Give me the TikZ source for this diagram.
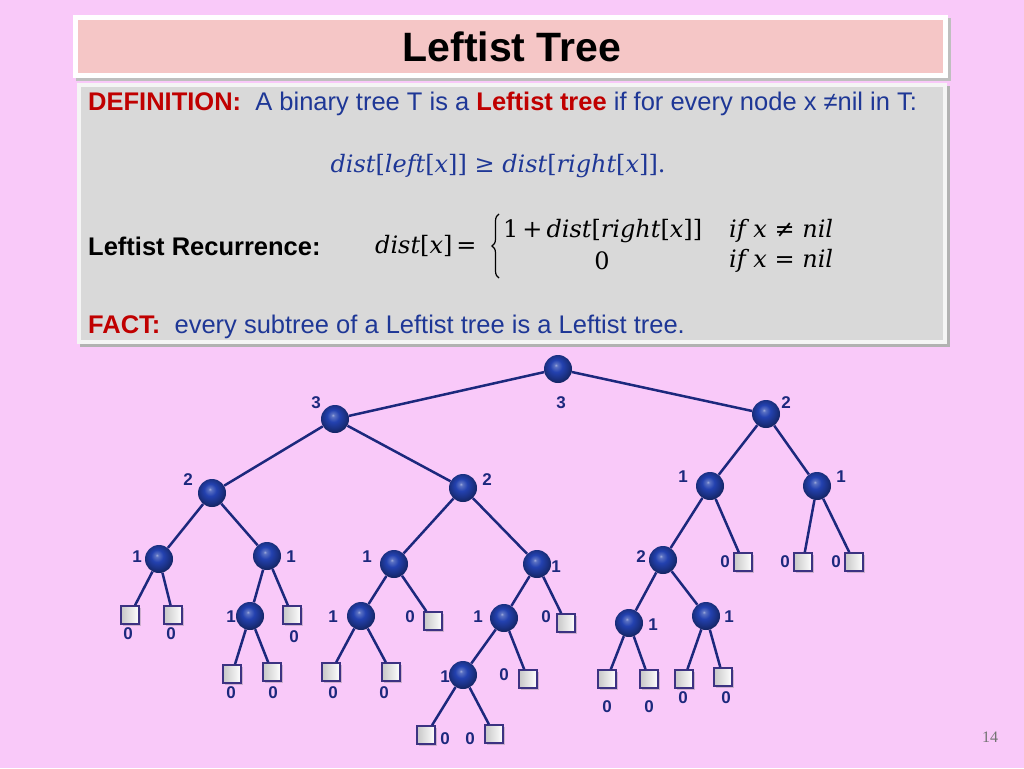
\documentclass[tikz,border=0pt]{standalone}
\usepackage{fontspec}
\setmainfont{Liberation Sans}
\newfontfamily\serf{Liberation Serif}
\newfontfamily\mathf{DejaVu Serif}
\usetikzlibrary{shadows,decorations.pathreplacing}
\definecolor{bgpink}{RGB}{249,201,249}
\definecolor{titlepink}{RGB}{245,198,198}
\definecolor{boxgray}{RGB}{217,217,217}
\definecolor{defred}{RGB}{192,0,0}
\definecolor{defblue}{RGB}{30,55,150}
\definecolor{navy}{RGB}{28,40,125}
\definecolor{ballblue}{RGB}{35,65,175}
\definecolor{sqedge}{RGB}{60,50,130}
\pgfdeclareradialshading{myball}{\pgfpoint{-4bp}{7bp}}{%
  color(0bp)=(ballblue!45!white); color(3bp)=(ballblue!75!white); color(11bp)=(ballblue);
  color(21bp)=(ballblue!75!black); color(28bp)=(ballblue!55!black); color(50bp)=(ballblue!55!black)}
\newcommand{\fm}[1]{{\mathf\itshape #1}}
\newcommand{\fu}[1]{{\mathf #1}}
\tikzset{
  ball/.style={circle, minimum size=28pt, inner sep=0pt, shading=myball},
  leaf/.style={rectangle, minimum size=18pt, inner sep=0pt, draw=sqedge, line width=1.6pt,
    left color=black!22, right color=white, drop shadow={shadow xshift=1.5pt, shadow yshift=-1.5pt, opacity=0.35}},
  lab/.style={font=\bfseries\fontsize{17}{17}\selectfont, text=navy, inner sep=0pt},
  edge/.style={draw=navy, line width=2.5pt},
  deftext/.style={font=\fontsize{25.5}{25.5}\selectfont, inner sep=0pt, anchor=west},
  frm/.style={font=\fontsize{24}{24}\selectfont, inner sep=0pt},
  bracepath/.style={decorate, decoration={brace, amplitude=7pt}, line width=1.2pt}
}
\begin{document}
\begin{tikzpicture}[x=1pt,y=-1pt]
\fill[bgpink] (0,0) rectangle (1024,768);
\useasboundingbox (0,0) rectangle (1024,768);
% title
\fill[black!25] (76,18) rectangle (951,81);
\fill[white] (73,15) rectangle (948,78);
\fill[titlepink] (78,20) rectangle (943,73);
\node[font=\bfseries\fontsize{41}{41}\selectfont, inner sep=0pt] (title) at (512,47) {Leftist Tree};
% definition box
\fill[black!30] (80,86) rectangle (950,347);
\fill[white!92!gray] (77,83) rectangle (947,344);
\fill[boxgray] (81,87) rectangle (943,340);
\node[deftext] (def) at (88,104) {\textcolor{defred}{\bfseries DEFINITION:}\ \ \textcolor{defblue}{A binary tree T is a} \textcolor{defred}{\bfseries Leftist tree} \textcolor{defblue}{if for every node x ≠nil in T:}};
\node[frm, text=defblue] (f1) at (498,166) {\fm{dist}\fu{[}\fm{left}\fu{[}\fm{x}\fu{]]\ ≥\ }\fm{dist}\fu{[}\fm{right}\fu{[}\fm{x}\fu{]].}};
\node[deftext] (rec) at (88,246) {\bfseries Leftist Recurrence:};
\node[frm, anchor=west] (dx) at (375,246) {\fm{dist}\fu{[}\fm{x}\fu{]\,=}};
\coordinate (bt) at (499,214);
\coordinate (bb) at (499,278);
\draw[bracepath] (bb) -- (bt);
\node[frm, anchor=west] (r1) at (503,231) {\fu{1\,+\,}\fm{dist}\fu{[}\fm{right}\fu{[}\fm{x}\fu{]]}};
\node[frm] (r2) at (602,261) {\fu{0}};
\node[frm, anchor=west] (c1) at (729,231) {\fm{if x}\fu{\ ≠\ }\fm{nil}};
\node[frm, anchor=west] (c2) at (729,261) {\fm{if x}\fu{\ =\ }\fm{nil}};
\node[deftext] (fact) at (88,327) {\textcolor{defred}{\bfseries FACT:}\ \ \textcolor{defblue}{every subtree of a Leftist tree is a Leftist tree.}};
% page number
\node[font=\serf\fontsize{16}{16}\selectfont, text=black!55] (pg) at (990,737) {14};
% tree nodes
\node[ball] (r) at (558,369) {};
\node[ball] (a) at (335,419) {};
\node[ball] (b) at (766,414) {};
\node[ball] (c) at (212,493) {};
\node[ball] (d) at (463,488) {};
\node[ball] (e) at (159,559) {};
\node[ball] (f) at (267,556) {};
\node[ball] (g) at (250,616) {};
\node[ball] (h) at (394,564) {};
\node[ball] (i) at (537,564) {};
\node[ball] (j) at (361,616) {};
\node[ball] (k) at (504,618) {};
\node[ball] (l) at (463,675) {};
\node[ball] (m) at (710,486) {};
\node[ball] (n) at (817,486) {};
\node[ball] (o) at (663,560) {};
\node[ball] (p) at (629,623) {};
\node[ball] (q) at (706,616) {};
% leaves
\node[leaf] (s1) at (130,615) {};
\node[leaf] (s2) at (173,615) {};
\node[leaf] (s3) at (292,615) {};
\node[leaf] (s4) at (232,674) {};
\node[leaf] (s5) at (272,672) {};
\node[leaf] (s6) at (433,621) {};
\node[leaf] (s7) at (331,672) {};
\node[leaf] (s8) at (391,672) {};
\node[leaf] (s9) at (566,623) {};
\node[leaf] (s10) at (528,679) {};
\node[leaf] (s11) at (426,735) {};
\node[leaf] (s12) at (494,734) {};
\node[leaf] (s13) at (743,562) {};
\node[leaf] (s14) at (803,562) {};
\node[leaf] (s15) at (854,562) {};
\node[leaf] (s16) at (607,679) {};
\node[leaf] (s17) at (649,679) {};
\node[leaf] (s18) at (684,679) {};
\node[leaf] (s19) at (723,677) {};
% edges
\foreach \u/\v in {r/a,r/b,a/c,a/d,c/e,c/f,e/s1,e/s2,f/g,f/s3,g/s4,g/s5,d/h,d/i,h/j,h/s6,j/s7,j/s8,i/k,i/s9,k/l,k/s10,l/s11,l/s12,b/m,b/n,m/o,m/s13,n/s14,n/s15,o/p,o/q,p/s16,p/s17,q/s18,q/s19}
  \draw[edge] (\u) -- (\v);
% labels
\node[lab] (lr) at (561,403) {3};
\node[lab] (la) at (316,403) {3};
\node[lab] (lb) at (786,403) {2};
\node[lab] (lc) at (188,480) {2};
\node[lab] (ld) at (487,480) {2};
\node[lab] (le) at (137,557) {1};
\node[lab] (lf) at (291,557) {1};
\node[lab] (lg) at (231,617) {1};
\node[lab] (lh) at (367,557) {1};
\node[lab] (li) at (556,567) {1};
\node[lab] (lj) at (333,617) {1};
\node[lab] (lk) at (478,617) {1};
\node[lab] (ll) at (445,677) {1};
\node[lab] (lm) at (683,477) {1};
\node[lab] (ln) at (841,477) {1};
\node[lab] (lo) at (641,557) {2};
\node[lab] (lp) at (653,625) {1};
\node[lab] (lq) at (729,617) {1};
\node[lab] (l1) at (128,634) {0};
\node[lab] (l2) at (171,634) {0};
\node[lab] (l3) at (294,637) {0};
\node[lab] (l4) at (231,693) {0};
\node[lab] (l5) at (273,693) {0};
\node[lab] (l6) at (410,617) {0};
\node[lab] (l7) at (333,693) {0};
\node[lab] (l8) at (384,693) {0};
\node[lab] (l9) at (546,617) {0};
\node[lab] (l10) at (504,675) {0};
\node[lab] (l11) at (445,739) {0};
\node[lab] (l12) at (470,739) {0};
\node[lab] (l13) at (725,562) {0};
\node[lab] (l14) at (785,562) {0};
\node[lab] (l15) at (836,562) {0};
\node[lab] (l16) at (607,707) {0};
\node[lab] (l17) at (649,707) {0};
\node[lab] (l18) at (683,698) {0};
\node[lab] (l19) at (726,698) {0};
\end{tikzpicture}
\end{document}
